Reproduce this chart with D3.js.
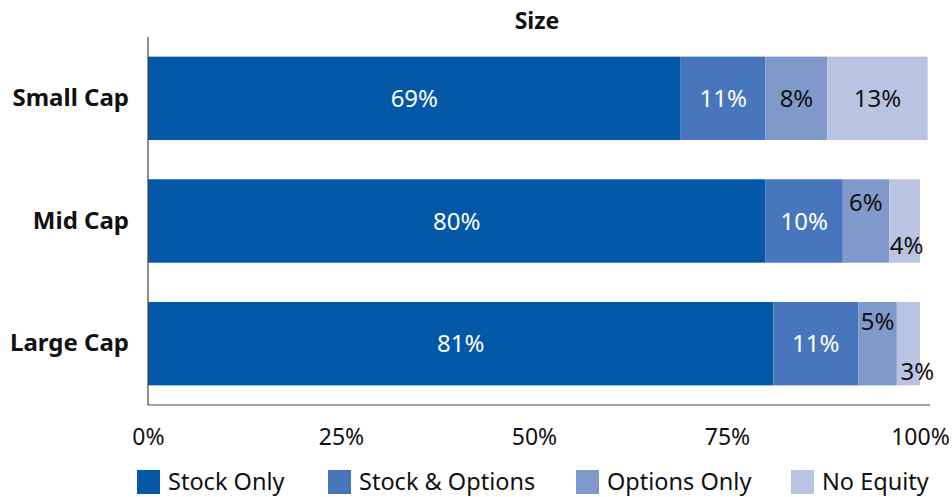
<!DOCTYPE html>
<html>
<head>
<meta charset="utf-8">
<script src="https://cdn.jsdelivr.net/npm/d3@7/dist/d3.min.js"></script>
<style>
  html, body { margin: 0; padding: 0; background: #fff; }
  svg { display: block; font-family: "Noto Sans", sans-serif; }
</style>
</head>
<body>
<svg id="chart" width="952" height="497"></svg>
<script>
// Equity compensation mix by company size (percent of companies)
const categories = ["Small Cap", "Mid Cap", "Large Cap"];
const seriesNames = ["Stock Only", "Stock & Options", "Options Only", "No Equity"];
const stockOnly      = [69, 80, 81];
const stockOptions   = [11, 10, 11];
const optionsOnly    = [8, 6, 5];
const noEquity       = [13, 4, 3];
const tickValues = [0, 25, 50, 75, 100];
const tickLabels = ["0%", "25%", "50%", "75%", "100%"];

const colors = ["#0359A8", "#4876BC", "#7F99CB", "#B9C4E2"];
const labelColors = ["#ffffff", "#ffffff", "#111111", "#111111"];

const rows = categories.map((c, i) => ({
  category: c,
  "Stock Only": stockOnly[i],
  "Stock & Options": stockOptions[i],
  "Options Only": optionsOnly[i],
  "No Equity": noEquity[i]
}));

const svg = d3.select("#chart");
const plotLeft = 148, plotRight = 920, plotTop = 37, plotBottom = 405;

const x = d3.scaleLinear().domain([0, 100]).range([plotLeft, plotRight]);
const y = d3.scaleBand().domain(categories).range([plotTop, plotBottom])
  .paddingInner(0.32).paddingOuter(0.16);

const stacked = d3.stack().keys(seriesNames)(rows);

// Title
svg.append("text")
  .attr("x", 537)
  .attr("y", 29)
  .attr("text-anchor", "middle")
  .attr("font-weight", "bold")
  .attr("font-size", 23)
  .attr("fill", "#111")
  .text("Size");

// Bars
const layers = svg.append("g").selectAll("g")
  .data(stacked).join("g")
  .attr("fill", (d, i) => colors[i]);

layers.selectAll("rect")
  .data(d => d)
  .join("rect")
  .attr("x", d => x(d[0]))
  .attr("y", d => y(d.data.category))
  .attr("width", d => x(d[1]) - x(d[0]))
  .attr("height", y.bandwidth());

// Segment value labels; narrow segments get their label nudged above/below
const labelOffset = {
  "Mid Cap|Options Only": { dx: 0, dy: -19 },
  "Mid Cap|No Equity": { dx: 2, dy: 24 },
  "Large Cap|Options Only": { dx: 0, dy: -22 },
  "Large Cap|No Equity": { dx: 9, dy: 28 }
};

stacked.forEach((layer, si) => {
  svg.append("g").selectAll("text")
    .data(layer)
    .join("text")
    .attr("x", d => {
      const o = labelOffset[d.data.category + "|" + layer.key];
      return (x(d[0]) + x(d[1])) / 2 + (o ? o.dx : 0);
    })
    .attr("y", d => {
      const o = labelOffset[d.data.category + "|" + layer.key];
      return y(d.data.category) + y.bandwidth() / 2 + (o ? o.dy : 0);
    })
    .attr("dy", "0.36em")
    .attr("text-anchor", "middle")
    .attr("font-size", 24)
    .attr("fill", labelColors[si])
    .text(d => (d[1] - d[0]) + "%");
});

// Axes
const xAxis = d3.axisBottom(x).tickValues(tickValues)
  .tickFormat((d, i) => tickLabels[i]).tickSize(0).tickPadding(24);
const gx = svg.append("g").attr("transform", `translate(0,${plotBottom})`).call(xAxis);
gx.select(".domain").remove();
gx.append("line").attr("x1", plotLeft).attr("x2", 930).attr("stroke", "#444").attr("stroke-width", 1.2);
gx.selectAll(".tick text").attr("font-size", 23).attr("fill", "#111")
  .attr("font-family", "Noto Sans, sans-serif");

const yAxis = d3.axisLeft(y).tickSize(0).tickPadding(19);
const gy = svg.append("g").attr("transform", `translate(${plotLeft},0)`).call(yAxis);
gy.select(".domain").remove();
gy.append("line").attr("y1", plotTop).attr("y2", plotBottom).attr("stroke", "#444").attr("stroke-width", 1.2);
gy.selectAll(".tick text").attr("font-size", 24).attr("font-weight", "bold")
  .attr("fill", "#111").attr("font-family", "Noto Sans, sans-serif");

// Legend
const legendX = [137, 328, 576, 791];
const legend = svg.append("g").selectAll("g")
  .data(seriesNames).join("g")
  .attr("transform", (d, i) => `translate(${legendX[i]},470)`);
legend.append("rect").attr("width", 23).attr("height", 24).attr("fill", (d, i) => colors[i]);
legend.append("text")
  .attr("x", 31).attr("y", 12).attr("dy", "0.36em")
  .attr("font-size", 23.5).attr("fill", "#111")
  .text(d => d);
</script>
</body>
</html>
